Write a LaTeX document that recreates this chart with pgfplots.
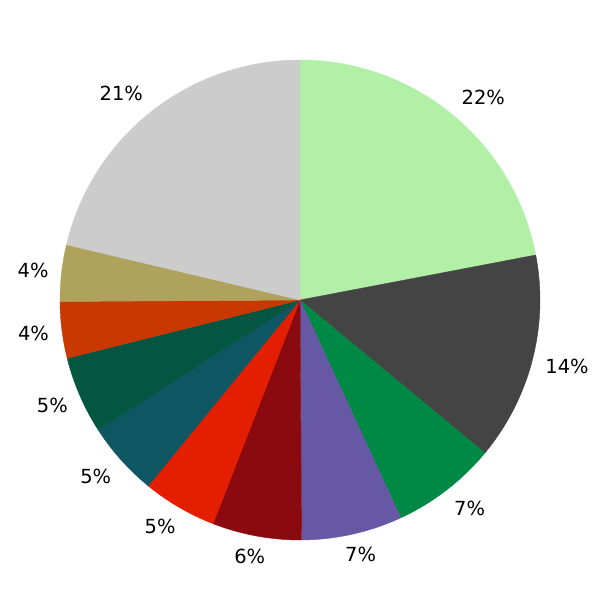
\documentclass[border=0pt]{standalone}
\usepackage{pgfplots}
\pgfplotsset{compat=1.18}
\usepackage{fontspec}
\setmainfont{DejaVu Sans}

\definecolor{c1}{RGB}{178,240,168}
\definecolor{c2}{RGB}{68,68,68}
\definecolor{c3}{RGB}{0,137,68}
\definecolor{c4}{RGB}{102,88,164}
\definecolor{c5}{RGB}{139,10,16}
\definecolor{c6}{RGB}{228,30,0}
\definecolor{c7}{RGB}{14,86,98}
\definecolor{c8}{RGB}{3,86,64}
\definecolor{c9}{RGB}{200,56,0}
\definecolor{c10}{RGB}{174,162,92}
\definecolor{c11}{RGB}{204,204,204}

\begin{document}
\begin{tikzpicture}
\begin{axis}[
    scale only axis,
    width=600bp, height=600bp,
    xmin=-1.25, xmax=1.25,
    ymin=-1.25, ymax=1.25,
    hide axis,
    clip=false,
]
% share (percent), label, colour -- clockwise from 12 o'clock
\pgfplotsextra{
  \path (rel axis cs:0,0) rectangle (rel axis cs:1,1);
  \gdef\angA{90}
  \foreach \v/\l/\c in {22.0/22/c1, 14.0/14/c2, 7.1/7/c3, 6.8/7/c4,
                        6.0/6/c5, 5.0/5/c6, 5.0/5/c7, 5.2/5/c8,
                        3.8/4/c9, 3.8/4/c10, 21.3/21/c11}{
    \pgfmathsetmacro\angB{\angA-\v*3.6}
    \pgfmathsetmacro\mid{(\angA+\angB)/2}
    \filldraw[\c, line width=0.4bp, line join=round] (axis cs:0,0) -- (axis cs:{cos(\angA)},{sin(\angA)})
        arc[start angle=\angA, end angle=\angB, radius=240bp] -- cycle;
    % label centre: just outside the rim, pushed out by half the text box
    \pgfmathsetmacro\hw{\l>9 ? 22 : 15.5}
    \pgfmathsetmacro\lx{(253*cos(\mid)+\hw*max(-1,min(1,1.6*cos(\mid))))/240}
    \pgfmathsetmacro\ly{(253*sin(\mid)+8*max(-1,min(1,1.6*sin(\mid))))/240}
    \node[inner sep=0pt, font=\fontsize{19.5}{23}\selectfont]
        at (axis cs:\lx,\ly) {\l\%};
    \xdef\angA{\angB}
  }
}
\end{axis}
\end{tikzpicture}
\end{document}
